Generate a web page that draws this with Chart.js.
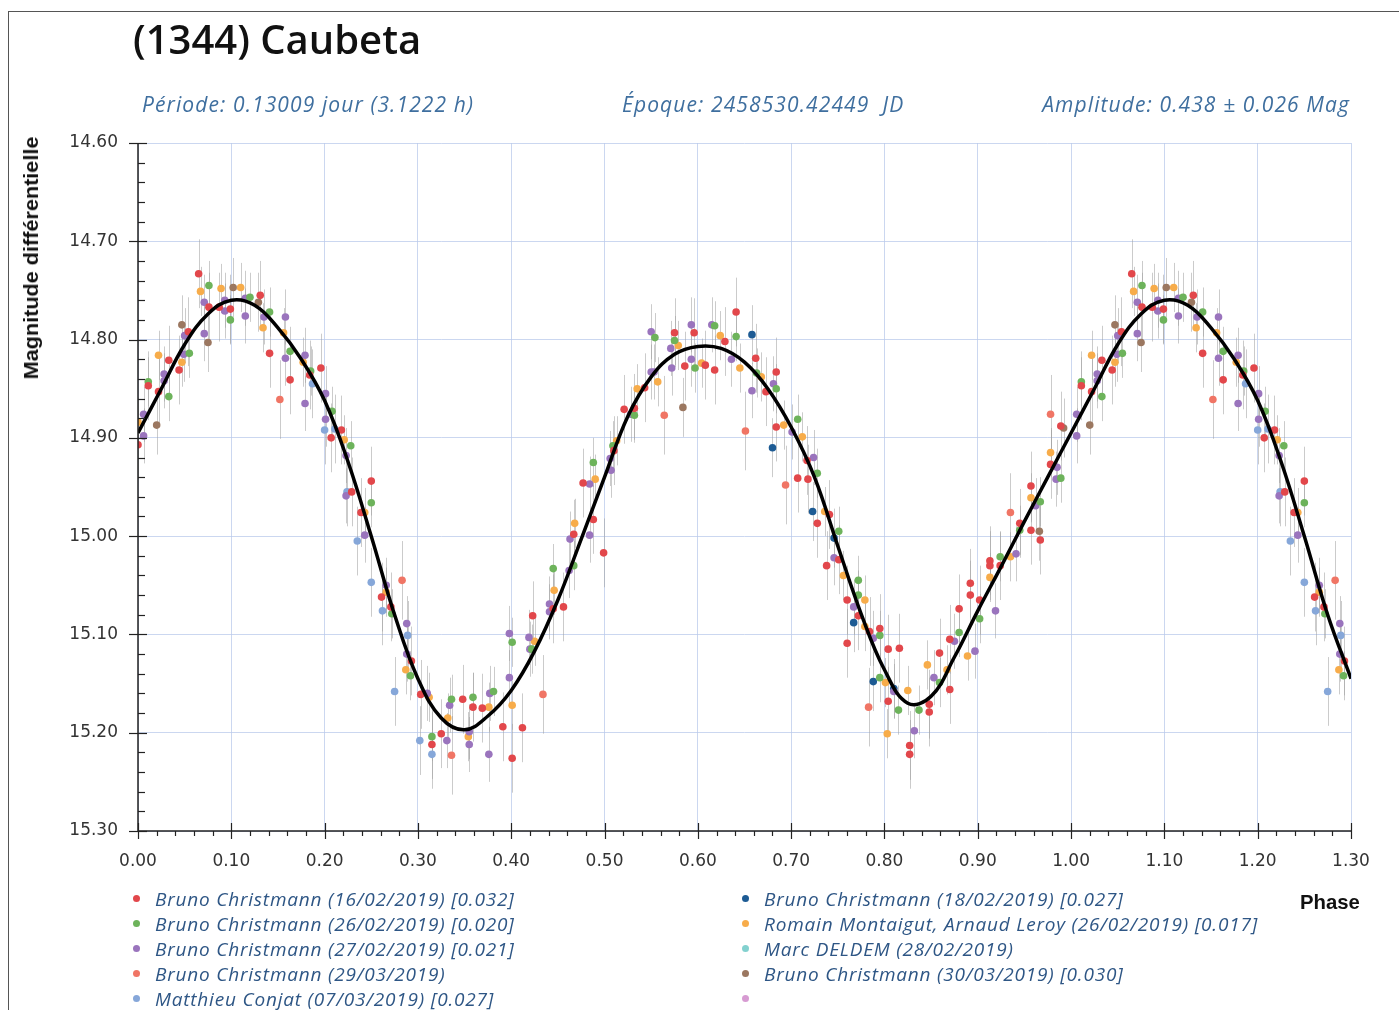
<!DOCTYPE html>
<html>
<head>
<meta charset="utf-8">
<script src="https://cdn.jsdelivr.net/npm/chart.js@4.4.1/dist/chart.umd.min.js"></script>
<style>
  body { margin: 0; background: #fff; }
  #wrap { position: relative; width: 1399px; height: 1010px; overflow: hidden; background: #fff; }
  #frame { position: absolute; left: 8px; top: 11px; width: 1500px; height: 1100px; border-left: 1px solid #555; border-top: 1px solid #555; }
  #chart { position: absolute; left: 0; top: 0; }
  #title { position: absolute; left: 133px; top: 19px; font: 600 40px "Open Sans"; line-height: 40px; color: #111; white-space: nowrap; }
  .sub { position: absolute; top: 94px; font: italic 21px "Open Sans"; line-height: 21px; letter-spacing: 1.1px; color: #3f6f9f; white-space: nowrap; }
  #ytitle { position: absolute; left: 31px; top: 258px; font: bold 21px "Liberation Sans"; color: #111; white-space: nowrap; }
  #xtitle { position: absolute; left: 1300px; top: 890px; font: bold 21px "Liberation Sans"; color: #111; white-space: nowrap; transform-origin: 0 50%; }
  .leg { position: absolute; height: 24px; line-height: 24px; font: italic 19px "Open Sans"; letter-spacing: 0.8px; color: #2e5685; white-space: nowrap; }
  .leg span.dot { position: absolute; left: -22px; top: 9px; width: 7px; height: 7px; border-radius: 50%; }
</style>
</head>
<body>
<div id="wrap">
  <div id="frame"></div>
  <canvas id="chart" width="1399" height="1010"></canvas>
  <div id="title">(1344) Caubeta</div>
  <div class="sub" style="left:142px">Période: 0.13009 jour (3.1222 h)</div>
  <div class="sub" style="left:622px">Époque: 2458530.42449&nbsp; JD</div>
  <div class="sub" style="right:49px">Amplitude: 0.438 ± 0.026 Mag</div>
  <div id="ytitle">Magnitude différentielle</div>
  <div id="xtitle">Phase</div>
  <div id="legend"></div>
</div>
<script>
// axis ticks
const xTickLabels = ['0.00', '0.10', '0.20', '0.30', '0.40', '0.50', '0.60', '0.70', '0.80', '0.90', '1.00', '1.10', '1.20', '1.30'];
const yTickLabels = ['14.60', '14.70', '14.80', '14.90', '15.00', '15.10', '15.20', '15.30'];

// fitted light curve (phase, magnitude), one period
const fitPhase = [0.000, 0.025, 0.050, 0.075, 0.100, 0.125, 0.150, 0.175, 0.200, 0.225,
                  0.250, 0.275, 0.300, 0.325, 0.350, 0.375, 0.400, 0.425, 0.450, 0.475,
                  0.500, 0.525, 0.550, 0.575, 0.600, 0.625, 0.650, 0.675, 0.700, 0.725,
                  0.750, 0.775, 0.800, 0.825, 0.850, 0.875, 0.900, 0.925, 0.950, 0.975, 1.000];
const fitMag = [14.895, 14.850, 14.805, 14.774, 14.760, 14.765, 14.788, 14.820, 14.862, 14.924,
                15.000, 15.080, 15.145, 15.185, 15.197, 15.183, 15.157, 15.117, 15.065, 15.003,
                14.940, 14.878, 14.838, 14.815, 14.807, 14.809, 14.823, 14.850, 14.889, 14.940,
                15.010, 15.079, 15.136, 15.170, 15.163, 15.123, 15.076, 15.031, 14.985, 14.940, 14.895];

// observations [phase, magnitude] per session
const bc1602 = [[0.000,14.907],[0.011,14.847],[0.022,14.853],[0.033,14.821],[0.044,14.831],[0.054,14.792],[0.065,14.733],[0.076,14.767],[0.087,14.767],[0.099,14.769],[0.131,14.755],[0.141,14.814],[0.163,14.841],[0.184,14.836],[0.196,14.829],[0.207,14.900],[0.218,14.892],[0.229,14.955],[0.239,14.976],[0.250,14.944],[0.261,15.062],[0.271,15.072],[0.293,15.127],[0.303,15.161],[0.315,15.212],[0.325,15.201],[0.348,15.166],[0.359,15.174],[0.369,15.175],[0.391,15.194],[0.401,15.226],[0.412,15.195],[0.423,15.081],[0.445,15.074],[0.456,15.072],[0.467,14.998],[0.477,14.946],[0.488,14.983],[0.499,15.017],[0.510,14.913],[0.521,14.871],[0.532,14.870],[0.543,14.849],[0.575,14.793],[0.586,14.827],[0.596,14.793],[0.608,14.826],[0.618,14.831],[0.629,14.802],[0.641,14.772],[0.662,14.819],[0.673,14.853],[0.684,14.833],[0.684,14.889],[0.707,14.941],[0.717,14.923],[0.718,14.942],[0.728,14.987],[0.738,15.030],[0.741,14.978],[0.751,15.024],[0.760,15.065],[0.760,15.109],[0.772,15.081],[0.784,15.097],[0.795,15.094],[0.804,15.115],[0.804,15.168],[0.816,15.114],[0.827,15.213],[0.827,15.222],[0.848,15.171],[0.848,15.179],[0.859,15.119],[0.870,15.105],[0.870,15.156],[0.880,15.074],[0.892,15.048],[0.892,15.060],[0.902,15.065],[0.913,15.025],[0.913,15.030],[0.924,15.030],[0.945,14.987],[0.957,14.949],[0.957,14.994],[0.967,15.004],[0.978,14.927],[0.989,14.888]];
const bc2602 = [[0.011,14.843],[0.033,14.858],[0.055,14.814],[0.076,14.745],[0.099,14.780],[0.120,14.757],[0.141,14.772],[0.163,14.812],[0.185,14.832],[0.208,14.873],[0.228,14.908],[0.250,14.966],[0.272,15.079],[0.292,15.142],[0.315,15.204],[0.336,15.166],[0.359,15.164],[0.381,15.158],[0.401,15.108],[0.422,15.115],[0.445,15.033],[0.467,15.030],[0.488,14.925],[0.509,14.908],[0.532,14.877],[0.554,14.798],[0.575,14.801],[0.597,14.829],[0.618,14.786],[0.641,14.797],[0.663,14.834],[0.684,14.850],[0.707,14.881],[0.728,14.936],[0.751,14.995],[0.772,15.045],[0.772,15.060],[0.795,15.101],[0.795,15.144],[0.815,15.177],[0.837,15.177],[0.859,15.149],[0.880,15.098],[0.902,15.084],[0.924,15.021],[0.945,14.994],[0.967,14.965],[0.989,14.941]];
const bc2702 = [[0.006,14.876],[0.006,14.898],[0.028,14.835],[0.028,14.842],[0.049,14.815],[0.050,14.796],[0.071,14.762],[0.071,14.794],[0.093,14.760],[0.093,14.771],[0.115,14.758],[0.115,14.776],[0.135,14.777],[0.158,14.777],[0.158,14.819],[0.179,14.816],[0.179,14.865],[0.201,14.855],[0.201,14.881],[0.223,14.918],[0.223,14.959],[0.243,14.999],[0.266,15.050],[0.288,15.089],[0.288,15.120],[0.310,15.160],[0.331,15.208],[0.334,15.172],[0.355,15.199],[0.355,15.212],[0.376,15.222],[0.377,15.160],[0.398,15.144],[0.398,15.099],[0.419,15.103],[0.420,15.115],[0.441,15.069],[0.441,15.077],[0.462,15.035],[0.463,15.003],[0.484,14.999],[0.484,14.947],[0.506,14.921],[0.507,14.933],[0.528,14.876],[0.550,14.833],[0.553,14.833],[0.550,14.792],[0.571,14.809],[0.572,14.829],[0.593,14.785],[0.593,14.820],[0.615,14.785],[0.636,14.820],[0.658,14.852],[0.681,14.845],[0.701,14.894],[0.724,14.920],[0.746,15.022],[0.767,15.072],[0.788,15.104],[0.810,15.158],[0.832,15.198],[0.853,15.144],[0.875,15.107],[0.897,15.117],[0.919,15.076],[0.941,15.018],[0.962,14.969],[0.984,14.942],[0.985,14.930]];
const bc2903 = [[0.152,14.861],[0.283,15.045],[0.336,15.223],[0.434,15.161],[0.564,14.877],[0.651,14.893],[0.694,14.948],[0.783,15.174],[0.935,14.976],[0.978,14.876]];
const mc0703 = [[0.187,14.845],[0.200,14.892],[0.211,14.891],[0.224,14.955],[0.235,15.005],[0.250,15.047],[0.262,15.076],[0.275,15.158],[0.289,15.101],[0.302,15.208],[0.315,15.222]];
const bc1802 = [[0.658,14.795],[0.680,14.910],[0.723,14.975],[0.746,15.002],[0.767,15.088],[0.788,15.148],[0.810,15.155]];
const rmal2602 = [[0.000,14.884],[0.022,14.816],[0.047,14.823],[0.067,14.751],[0.089,14.748],[0.110,14.747],[0.134,14.788],[0.156,14.793],[0.177,14.823],[0.221,14.902],[0.243,14.976],[0.266,15.057],[0.287,15.136],[0.312,15.164],[0.332,15.185],[0.354,15.204],[0.376,15.174],[0.401,15.172],[0.425,15.107],[0.446,15.055],[0.468,14.987],[0.490,14.942],[0.513,14.903],[0.535,14.850],[0.557,14.843],[0.579,14.806],[0.604,14.824],[0.624,14.796],[0.645,14.829],[0.668,14.838],[0.692,14.887],[0.712,14.899],[0.736,14.975],[0.756,15.040],[0.779,15.065],[0.779,15.092],[0.801,15.149],[0.803,15.201],[0.825,15.157],[0.846,15.131],[0.867,15.136],[0.889,15.122],[0.913,15.042],[0.935,15.021],[0.957,14.961],[0.978,14.915]];
const md2802 = [];
const bc3003 = [[0.020,14.887],[0.047,14.785],[0.075,14.803],[0.102,14.747],[0.129,14.762],[0.584,14.869],[0.966,14.995],[0.992,14.890]];
const unnamed = [];

const seriesData = [bc1602, bc2602, bc2702, bc2903, mc0703, bc1802, rmal2602, md2802, bc3003, unnamed];
const seriesLabels = [
  'Bruno Christmann (16/02/2019) [0.032]',
  'Bruno Christmann (26/02/2019) [0.020]',
  'Bruno Christmann (27/02/2019) [0.021]',
  'Bruno Christmann (29/03/2019)',
  'Matthieu Conjat (07/03/2019) [0.027]',
  'Bruno Christmann (18/02/2019) [0.027]',
  'Romain Montaigut, Arnaud Leroy (26/02/2019) [0.017]',
  'Marc DELDEM (28/02/2019)',
  'Bruno Christmann (30/03/2019) [0.030]',
  ''
];
const seriesColors = ['#e2474b', '#6db35b', '#9a74bd', '#f07565', '#86a7d9', '#1d5b94', '#f7ac4a', '#83d1cf', '#9b7760', '#d79bd2'];
const seriesErr = [0.035, 0.025, 0.028, 0.04, 0.035, 0.03, 0.025, 0.03, 0.03, 0.03];

const PHASE_MAX = 1.30;

// phases below 0.30 are repeated one period later, as on the original plot
function wrapPoints(phases, mags) {
  const pts = phases.map((p, i) => ({ x: p, y: mags[i] }));
  phases.forEach((p, i) => {
    if (p > 0 && p + 1 <= PHASE_MAX + 1e-9) pts.push({ x: p + 1, y: mags[i] });
  });
  return pts.sort((a, b) => a.x - b.x);
}

const datasets = [{
  label: 'fit',
  data: wrapPoints(fitPhase, fitMag),
  showLine: true,
  borderColor: '#000',
  borderWidth: 3.5,
  pointRadius: 0,
  cubicInterpolationMode: 'default',
  tension: 0.4,
  order: -1
}];
seriesData.forEach((s, i) => {
  datasets.push({
    label: seriesLabels[i],
    data: wrapPoints(s.map(d => d[0]), s.map(d => d[1])),
    err: seriesErr[i],
    backgroundColor: seriesColors[i],
    borderWidth: 0,
    pointRadius: 3.8,
    order: i + 1
  });
});

// grey vertical error bars under the points
const errorBars = {
  id: 'errorBars',
  beforeDatasetsDraw(chart) {
    const { ctx, chartArea: a, scales: { x, y } } = chart;
    ctx.save();
    ctx.beginPath();
    ctx.rect(a.left, a.top, a.right - a.left, a.bottom - a.top);
    ctx.clip();
    ctx.strokeStyle = 'rgba(160,160,160,0.55)';
    ctx.lineWidth = 1;
    chart.data.datasets.forEach(ds => {
      if (ds.err === undefined) return;
      ds.data.forEach(p => {
        const px = Math.round(x.getPixelForValue(p.x)) + 0.5;
        ctx.beginPath();
        ctx.moveTo(px, y.getPixelForValue(p.y - ds.err));
        ctx.lineTo(px, y.getPixelForValue(p.y + ds.err));
        ctx.stroke();
      });
    });
    ctx.restore();
  }
};

// black axis lines with major (crossing) and minor tick marks
const axisMarks = {
  id: 'axisMarks',
  afterDraw(chart) {
    const { ctx, chartArea: a, scales: { x, y } } = chart;
    ctx.save();
    ctx.strokeStyle = '#222';
    ctx.lineWidth = 1.5;
    ctx.beginPath();
    ctx.moveTo(a.left, a.top);
    ctx.lineTo(a.left, a.bottom);
    ctx.lineTo(a.right, a.bottom);
    ctx.stroke();
    ctx.lineWidth = 1.2;
    for (let k = 0; k <= 35; k++) {
      const v = 14.60 + k * 0.02;
      const py = Math.round(y.getPixelForValue(v)) + 0.5;
      const major = k % 5 === 0;
      ctx.beginPath();
      ctx.moveTo(major ? a.left - 9 : a.left, py);
      ctx.lineTo(major ? a.left + 9 : a.left + 7, py);
      ctx.stroke();
    }
    for (let k = 0; k <= 65; k++) {
      const v = k * 0.02;
      const px = Math.round(x.getPixelForValue(v)) + 0.5;
      const major = k % 5 === 0;
      ctx.beginPath();
      ctx.moveTo(px, major ? a.bottom - 8 : a.bottom);
      ctx.lineTo(px, major ? a.bottom + 8 : a.bottom + 5);
      ctx.stroke();
    }
    ctx.restore();
  }
};

new Chart(document.getElementById('chart'), {
  type: 'scatter',
  data: { datasets },
  options: {
    responsive: false,
    animation: false,
    events: [],
    layout: { padding: { left: 0, top: 143, right: 48, bottom: 0 } },
    plugins: { legend: { display: false }, tooltip: { enabled: false } },
    scales: {
      x: {
        type: 'linear',
        min: 0,
        max: PHASE_MAX,
        afterBuildTicks: s => { s.ticks = xTickLabels.map(l => ({ value: parseFloat(l) })); },
        afterFit: s => { s.height = 179; },
        grid: { color: 'rgba(185,202,235,0.75)', drawTicks: false, lineWidth: 1 },
        border: { display: false },
        ticks: {
          padding: 20,
          maxRotation: 0,
          autoSkip: false,
          color: '#333',
          font: { family: 'DejaVu Sans', size: 17 },
          callback: v => v.toFixed(2)
        }
      },
      y: {
        type: 'linear',
        min: 14.60,
        max: 15.30,
        reverse: true,
        afterBuildTicks: s => { s.ticks = yTickLabels.map(l => ({ value: parseFloat(l) })); },
        afterFit: s => { s.width = 138; },
        grid: { color: 'rgba(185,202,235,0.75)', drawTicks: false, lineWidth: 1 },
        border: { display: false },
        ticks: {
          padding: 20,
          autoSkip: false,
          color: '#333',
          font: { family: 'DejaVu Sans', size: 17 },
          callback: v => v.toFixed(2)
        }
      }
    }
  },
  plugins: [errorBars, axisMarks]
});

// condensed axis titles: squeeze to the widths seen on the original
const yt = document.getElementById('ytitle');
const ys = 243 / yt.offsetWidth;
yt.style.transform = 'translate(-50%, -50%) rotate(-90deg) scaleX(' + ys + ')';
const xt = document.getElementById('xtitle');
xt.style.transform = 'scaleX(' + (60 / xt.offsetWidth) + ')';

// two-column legend below the plot
const legend = document.getElementById('legend');
seriesLabels.forEach((lab, i) => {
  const col = i < 5 ? 0 : 1;
  const row = i % 5;
  const el = document.createElement('div');
  el.className = 'leg';
  el.style.left = (col === 0 ? 155 : 764) + 'px';
  el.style.top = (886 + row * 25) + 'px';
  el.innerHTML = '<span class="dot" style="background:' + seriesColors[i] + '"></span>';
  el.appendChild(document.createTextNode(lab));
  legend.appendChild(el);
});
</script>
</body>
</html>
